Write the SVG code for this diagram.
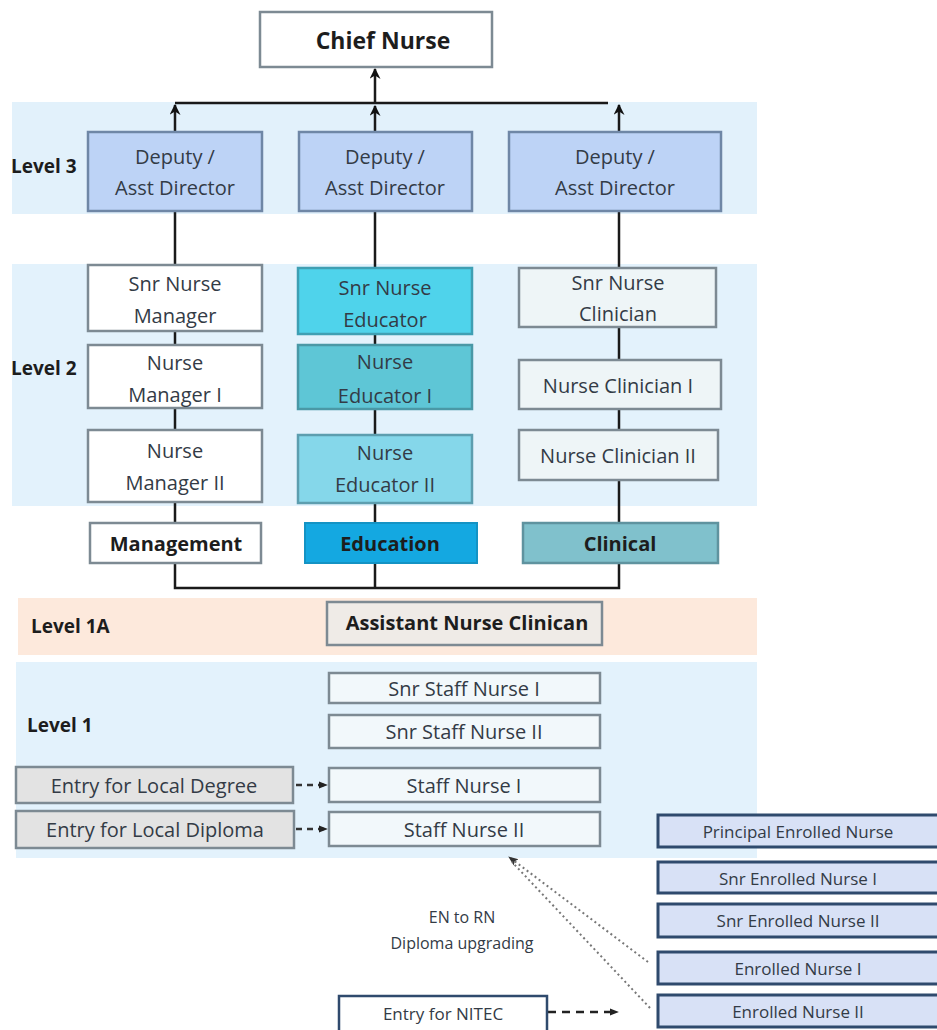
<svg xmlns="http://www.w3.org/2000/svg" width="937" height="1030" viewBox="0 0 937 1030">
<defs>
<marker id="ah" viewBox="0 0 10 10" refX="9" refY="5" markerWidth="11" markerHeight="11" markerUnits="userSpaceOnUse" orient="auto">
<path d="M0,0 L10,5 L0,10 L3,5 Z" fill="#111"/>
</marker>
<marker id="ahs" viewBox="0 0 10 10" refX="9" refY="5" markerWidth="9" markerHeight="9" markerUnits="userSpaceOnUse" orient="auto">
<path d="M0,1 L10,5 L0,9 Z" fill="#222"/>
</marker>
<marker id="ahd" viewBox="0 0 10 10" refX="9" refY="5" markerWidth="10" markerHeight="10" markerUnits="userSpaceOnUse" orient="auto">
<path d="M0,1 L10,5 L0,9 L2,5 Z" fill="#333"/>
</marker>
</defs>
<style>
text{font-family:"Open Sans",Lato,"Liberation Sans",sans-serif;text-anchor:middle;dominant-baseline:central;fill:#333b46}
.b{font-weight:bold;fill:#1d1d1d}
.lvl{font-weight:bold;text-anchor:start;fill:#1d1d1d;font-size:19px}
.t19{font-size:20px}
.t15{font-size:17px}
.box{stroke:#7d8a93;stroke-width:2.5}
.dep{fill:#bdd3f6;stroke:#6f87a6;stroke-width:2.5}
.en{fill:#d8e1f6;stroke:#2f4a6d;stroke-width:3}
.ln{stroke:#1a1a1a;stroke-width:2.5;fill:none}
</style>

<!-- bands -->
<g id="bands">
<rect x="12" y="102" width="745" height="112" fill="#e2f1fb"/>
<rect x="12" y="264" width="745" height="242" fill="#e3f2fc"/>
<rect x="18" y="598" width="739" height="57" fill="#fde9dc"/>
<rect x="16" y="662" width="741" height="196" fill="#e3f2fc"/>
</g>

<g id="levels">
<text class="lvl" x="11" y="166">Level 3</text>
<text class="lvl" x="11" y="368">Level 2</text>
<text class="lvl" x="31" y="626">Level 1A</text>
<text class="lvl" x="27" y="725">Level 1</text>
</g>

<!-- connectors -->
<g id="connectors">
<line class="ln" x1="175" y1="103" x2="608" y2="103"/>
<line class="ln" x1="375" y1="103" x2="375" y2="69" marker-end="url(#ah)"/>
<line class="ln" x1="175" y1="132" x2="175" y2="105" marker-end="url(#ah)"/>
<line class="ln" x1="375" y1="132" x2="375" y2="106" marker-end="url(#ah)"/>
<line class="ln" x1="619" y1="132" x2="619" y2="105" marker-end="url(#ah)"/>
<path class="ln" d="M175,211 V588 H619 V211"/>
<line class="ln" x1="375" y1="211" x2="375" y2="588"/>
<line x1="296" y1="785" x2="327" y2="785" stroke="#333" stroke-width="2.5" stroke-dasharray="6,5" marker-end="url(#ahs)"/>
<line x1="296" y1="829" x2="327" y2="829" stroke="#333" stroke-width="2.5" stroke-dasharray="6,5" marker-end="url(#ahs)"/>
<line x1="548" y1="1012" x2="618" y2="1012" stroke="#222" stroke-width="2.5" stroke-dasharray="8,6" marker-end="url(#ahs)"/>
<line x1="648" y1="962" x2="509" y2="857" stroke="#777" stroke-width="2" stroke-dasharray="2,3" marker-end="url(#ahd)"/>
<line x1="650" y1="1008" x2="512" y2="862" stroke="#777" stroke-width="2" stroke-dasharray="2,3"/>
</g>

<g id="chief">
<rect x="260" y="12" width="232" height="55" fill="#fff" class="box"/>
<text class="b" x="383" y="40" font-size="23">Chief Nurse</text>
</g>

<g id="dep1">
<rect x="88" y="132" width="174" height="79" class="dep"/>
<text class="t19" x="175" y="156">Deputy /</text>
<text class="t19" x="175" y="187">Asst  Director</text>
</g>
<g id="dep2">
<rect x="299" y="132" width="173" height="79" class="dep"/>
<text class="t19" x="385" y="156">Deputy /</text>
<text class="t19" x="385" y="187">Asst  Director</text>
</g>
<g id="dep3">
<rect x="509" y="132" width="212" height="79" class="dep"/>
<text class="t19" x="615" y="156">Deputy /</text>
<text class="t19" x="615" y="187">Asst  Director</text>
</g>

<g id="snm">
<rect x="88" y="265" width="174" height="66" fill="#fff" class="box"/>
<text class="t19" x="175" y="283">Snr Nurse</text>
<text class="t19" x="175" y="315">Manager</text>
</g>
<g id="nm1">
<rect x="88" y="345" width="174" height="63" fill="#fff" class="box"/>
<text class="t19" x="175" y="362">Nurse</text>
<text class="t19" x="175" y="394">Manager I</text>
</g>
<g id="nm2">
<rect x="88" y="430" width="174" height="72" fill="#fff" class="box"/>
<text class="t19" x="175" y="450">Nurse</text>
<text class="t19" x="175" y="482">Manager II</text>
</g>

<g id="sne">
<rect x="298" y="268" width="174" height="66" fill="#4fd3eb" stroke="#3f9fb3" stroke-width="2.5"/>
<text class="t19" x="385" y="287">Snr Nurse</text>
<text class="t19" x="385" y="319">Educator</text>
</g>
<g id="ne1">
<rect x="298" y="345" width="174" height="64" fill="#5ec6d6" stroke="#4a98a6" stroke-width="2.5"/>
<text class="t19" x="385" y="361">Nurse</text>
<text class="t19" x="385" y="395">Educator I</text>
</g>
<g id="ne2">
<rect x="298" y="435" width="174" height="68" fill="#85d7ea" stroke="#5d9eaf" stroke-width="2.5"/>
<text class="t19" x="385" y="452">Nurse</text>
<text class="t19" x="385" y="484">Educator II</text>
</g>

<g id="snc">
<rect x="519" y="268" width="197" height="59" fill="#eef5f7" class="box"/>
<text class="t19" x="618" y="282">Snr Nurse</text>
<text class="t19" x="618" y="313">Clinician</text>
</g>
<g id="nc1">
<rect x="519" y="360" width="202" height="49" fill="#eef5f7" class="box"/>
<text class="t19" x="618" y="385">Nurse Clinician I</text>
</g>
<g id="nc2">
<rect x="519" y="430" width="199" height="50" fill="#eef5f7" class="box"/>
<text class="t19" x="618" y="455">Nurse Clinician II</text>
</g>

<g id="mgmt">
<rect x="90" y="523" width="171" height="40" fill="#fff" class="box"/>
<text class="b" x="176" y="543" font-size="20">Management</text>
</g>
<g id="edu">
<rect x="305" y="523" width="172" height="40" fill="#14a8e1" stroke="#1493c4" stroke-width="2"/>
<text class="b" x="390" y="543" font-size="20" fill="#163a5a">Education</text>
</g>
<g id="clin">
<rect x="523" y="523" width="195" height="40" fill="#80c1cc" stroke="#5f939f" stroke-width="2.5"/>
<text class="b" x="620" y="543" font-size="20" fill="#1b3340">Clinical</text>
</g>

<g id="anc">
<rect x="327" y="602" width="275" height="43" fill="#efebe7" class="box"/>
<text class="b" x="467" y="622" font-size="20">Assistant Nurse Clinican</text>
</g>

<g id="ssn1">
<rect x="329" y="673" width="271" height="30" fill="#f2f8fb" class="box"/>
<text class="t19" x="464" y="688">Snr Staff Nurse I</text>
</g>
<g id="ssn2">
<rect x="329" y="715" width="271" height="33" fill="#f2f8fb" class="box"/>
<text class="t19" x="464" y="731">Snr Staff Nurse II</text>
</g>
<g id="sn1">
<rect x="329" y="768" width="271" height="34" fill="#f2f8fb" class="box"/>
<text class="t19" x="464" y="785">Staff Nurse I</text>
</g>
<g id="sn2">
<rect x="329" y="812" width="271" height="34" fill="#f2f8fb" class="box"/>
<text class="t19" x="464" y="829">Staff Nurse II</text>
</g>

<g id="eld">
<rect x="16" y="767" width="277" height="36" fill="#e3e3e3" class="box"/>
<text class="t19" x="154" y="785">Entry for Local Degree</text>
</g>
<g id="eldip">
<rect x="16" y="811" width="278" height="37" fill="#e3e3e3" class="box"/>
<text class="t19" x="155" y="829">Entry for Local Diploma</text>
</g>

<g id="upg">
<text x="462" y="917" font-size="16">EN to RN</text>
<text x="462" y="943" font-size="16">Diploma upgrading</text>
</g>

<g id="nitec">
<rect x="339" y="996" width="208" height="40" fill="#fff" stroke="#2f4a6d" stroke-width="2.5"/>
<text x="443" y="1013" font-size="17">Entry for NITEC</text>
</g>

<g id="pen">
<rect x="658" y="815" width="285" height="32" class="en"/>
<text class="t15" x="798" y="831">Principal Enrolled Nurse</text>
</g>
<g id="sen1">
<rect x="658" y="862" width="285" height="31" class="en"/>
<text class="t15" x="798" y="878">Snr Enrolled Nurse I</text>
</g>
<g id="sen2">
<rect x="658" y="904" width="285" height="33" class="en"/>
<text class="t15" x="798" y="920">Snr Enrolled Nurse II</text>
</g>
<g id="en1">
<rect x="658" y="952" width="285" height="32" class="en"/>
<text class="t15" x="798" y="968">Enrolled Nurse I</text>
</g>
<g id="en2">
<rect x="658" y="995" width="285" height="32" class="en"/>
<text class="t15" x="798" y="1011">Enrolled Nurse II</text>
</g>
</svg>
